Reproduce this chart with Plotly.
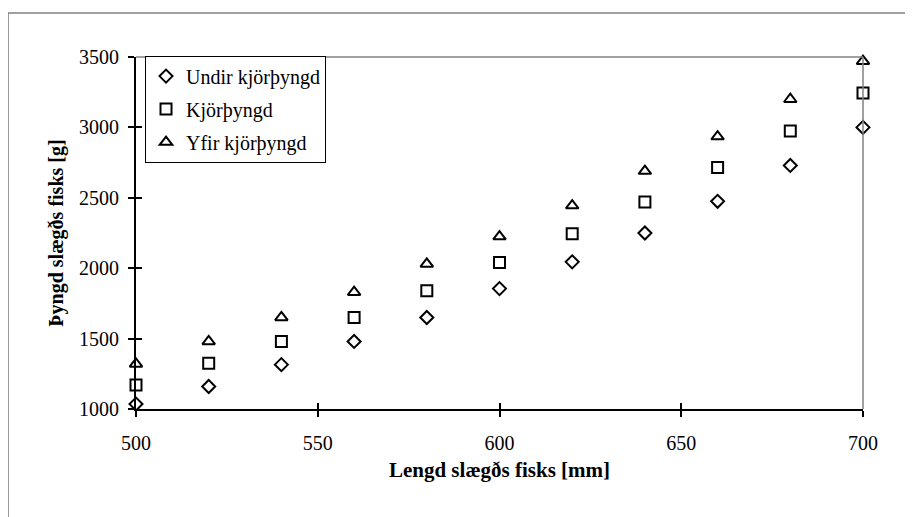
import plotly.graph_objects as go

lengths = [500, 520, 540, 560, 580, 600, 620, 640, 660, 680, 700]
undir = [1035, 1160, 1315, 1480, 1650, 1855, 2045, 2250, 2475, 2730, 3000]
kjor = [1170, 1325, 1480, 1650, 1840, 2040, 2245, 2470, 2715, 2975, 3245]
yfir = [1320, 1480, 1650, 1830, 2030, 2225, 2445, 2690, 2935, 3200, 3470]
names = ["Undir kjörþyngd", "Kjörþyngd", "Yfir kjörþyngd"]
x_ticks = [500, 550, 600, 650, 700]
y_ticks = [1000, 1500, 2000, 2500, 3000, 3500]

FONT = "Liberation Serif, Times New Roman, serif"

fig = go.Figure()
series = [(undir, "diamond-open", 10), (kjor, "square-open", 11), (yfir, "triangle-up-open", 11)]
for i, (vals, sym, sz) in enumerate(series):
    fig.add_trace(go.Scatter(
        x=lengths, y=vals, mode="markers", name=names[i], legendgroup=f"g{i}",
        marker=dict(symbol=sym, size=sz, color="black", line=dict(color="black", width=2)),
        cliponaxis=False,
    ))

# invisible trace for overlay axes (crossing ticks)
fig.add_trace(go.Scatter(x=[lengths[0]], y=[undir[0]], xaxis="x2", yaxis="y2",
                         mode="markers", marker=dict(opacity=0), showlegend=False,
                         hoverinfo="skip"))

axis_common = dict(showgrid=False, zeroline=False, ticklen=6, tickwidth=1.5,
                   tickcolor="black", showline=True, linecolor="black", linewidth=2,
                   automargin=False,
                   tickfont=dict(family=FONT, size=20, color="black"))

fig.update_layout(
    width=913, height=517,
    margin=dict(l=128, r=58, t=49, b=116),
    paper_bgcolor="white", plot_bgcolor="white",
    font=dict(family=FONT, color="black"),
    xaxis=dict(range=[500, 700], tickvals=x_ticks, ticks="outside",
               title=dict(text="<b>Lengd slægðs fisks [mm]</b>", font=dict(family=FONT, size=21), standoff=9),
               ticklabelstandoff=9, **axis_common),
    yaxis=dict(range=[1000, 3500], tickvals=y_ticks, ticks="outside",
               title=dict(text="<b>Þyngd slægðs fisks [g]</b>", font=dict(family=FONT, size=20), standoff=10),
               ticklabelstandoff=5, **axis_common),
    xaxis2=dict(range=[500, 700], overlaying="x", tickvals=x_ticks, ticks="inside",
                showticklabels=False, showgrid=False, zeroline=False, ticklen=6, tickwidth=1.5,
                tickcolor="black", side="bottom", anchor="y2", automargin=False),
    yaxis2=dict(range=[1000, 3500], overlaying="y", tickvals=y_ticks, ticks="inside",
                showticklabels=False, showgrid=False, zeroline=False, ticklen=6, tickwidth=1.5,
                tickcolor="black", side="left", anchor="x2", automargin=False),
    legend=dict(x=0.0124, y=1.004, xanchor="left", yanchor="top",
                bordercolor="black", borderwidth=1, bgcolor="white",
                font=dict(family=FONT, size=20, color="black"),
                tracegroupgap=4, itemwidth=30),
    showlegend=True,
    shapes=[
        dict(type="rect", xref="paper", yref="paper", x0=-0.176, x1=1.3, y0=-0.5, y1=1.125,
             line=dict(color="#808080", width=1.5), layer="below"),
        dict(type="line", xref="paper", yref="paper", x0=0, x1=1, y0=1, y1=1,
             line=dict(color="#808080", width=1.5)),
        dict(type="line", xref="paper", yref="paper", x0=1, x1=1, y0=0, y1=1,
             line=dict(color="#808080", width=1.5)),
    ],
)

fig.write_html("out.html")
